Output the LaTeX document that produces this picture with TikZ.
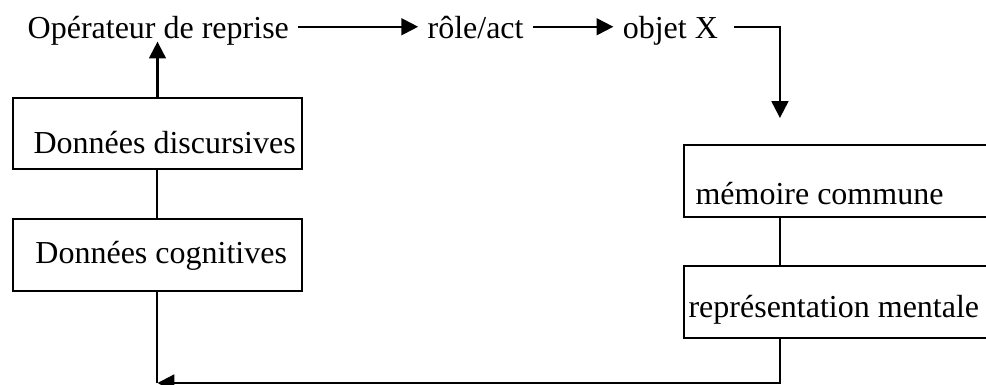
\documentclass[tikz,border=0pt]{standalone}
\usepackage{fontspec}
\setmainfont{Liberation Serif}
\usetikzlibrary{positioning,arrows.meta}

\begin{document}
\begin{tikzpicture}[
  font=\fontsize{12}{14}\selectfont,
  cadre/.style={rectangle, draw, line width=0.75pt, anchor=north west, minimum width=#1, minimum height=0.949cm, inner sep=0pt},
  etiq/.style={anchor=base west, inner sep=0pt},
  fleche/.style={-{Triangle[length=6.3pt,width=6.3pt]}, line width=0.8pt},
  lien/.style={line width=0.75pt}
]
\useasboundingbox (0,0) rectangle (12.996,-5.074);

% ligne du haut
\node[anchor=base west] (reprise) at (0.241,-0.514) {Opérateur de reprise};
\node[base right=1.58cm of reprise] (role) {rôle/act};
\node[base right=1.06cm of role] (objet) {objet X};

% colonne de gauche
\node[cadre=3.809cm, minimum height=0.936cm, label={[etiq, name=discourstxt, xshift=7.9pt, yshift=6pt]south west:Données discursives}] (discours) at (0.158,-1.278) {};
\node[cadre=3.809cm, below=0.63cm of discours, label={[etiq, name=cognittxt, xshift=8.6pt, yshift=10.5pt]south west:Données cognitives}] (cognit) {};

% colonne de droite
\node[cadre=4.22cm, label={[etiq, name=memoiretxt, xshift=4.5pt, yshift=5.25pt]south west:mémoire commune}] (memoire) at (9.002,-1.898) {};
\node[cadre=4.22cm, below=0.62cm of memoire, label={[etiq, name=represtxt, xshift=1.9pt, yshift=7.9pt]south west:représentation mentale}] (repres) {};

\coordinate (descente) at (10.280,-1.555);
\coordinate (retour) at (cognit.south |- 0,-5.048);

\draw[fleche] ([yshift=.5ex]reprise.mid east) -- ([yshift=.5ex]role.mid west);
\draw[fleche] ([yshift=.5ex]role.mid east) -- ([yshift=.5ex]objet.mid west);
\draw[fleche] ([xshift=2.5pt, yshift=.5ex]objet.mid east) -| (descente);
\draw[lien, semithick] (descente |- memoire.south) -- (descente |- repres.north);
\draw[fleche] (descente |- repres.south) |- (retour);
\draw[lien] (cognit.south) -- (retour);
\draw[lien] (discours.south) -- (cognit.north);
\draw[fleche, shorten >=-5.1pt] (discours.north) -- (discours.north |- reprise.south);
\end{tikzpicture}
\end{document}
